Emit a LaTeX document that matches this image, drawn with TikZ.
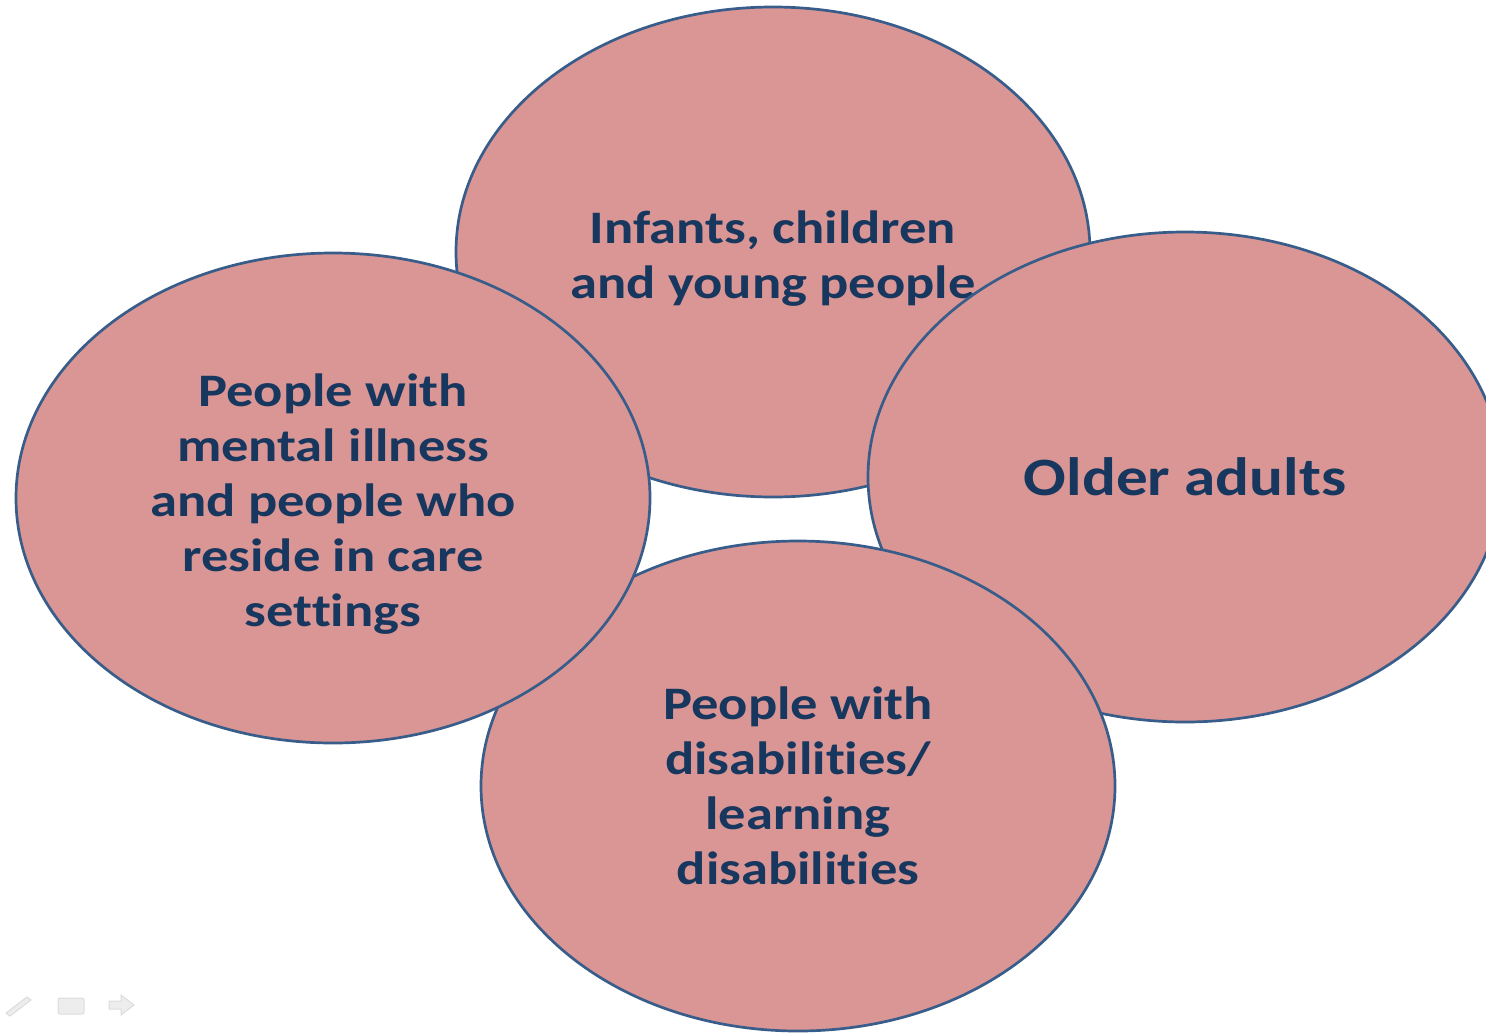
\documentclass[tikz,border=0pt]{standalone}
\usepackage{fontspec}
\setmainfont{Carlito}[FakeStretch=1.17, Ligatures=NoCommon]
\usetikzlibrary{shapes.geometric}
\definecolor{blobfill}{HTML}{D99694}
\definecolor{blobline}{HTML}{385D8A}
\definecolor{blobtext}{HTML}{17375E}
\definecolor{iconfill}{HTML}{EDEDED}
\definecolor{iconline}{HTML}{DCDCDC}
\tikzset{
  blob/.style={ellipse, draw=blobline, fill=blobfill, line width=1.35pt,
    minimum width=317pt, minimum height=245pt, inner sep=0pt,
    text=blobtext, align=center, font=\bfseries\fontsize{23.3}{27.5}\selectfont},
  bigtext/.style={font=\bfseries\fontsize{27}{32}\selectfont},
  icon/.style={fill=iconfill, draw=iconline, line width=0.5pt}
}
\newcommand{\downpad}{\rule{0pt}{22.5pt}}
\begin{document}
\begin{tikzpicture}[x=0.5pt,y=-0.5pt]
\useasboundingbox (0,0) rectangle (1486,1033);
\clip (0,0) rectangle (1486,1033);
\node[blob] (infants) at (773,252) {\downpad Infants, children\\and young people};
\node[blob, bigtext] (older) at (1185,477) {Older adults};
\node[blob] (disab) at (798,786) {People with\\disabilities/\\learning\\disabilities};
\node[blob] (mental) at (333,498) {\downpad People with\\mental illness\\and people who\\reside in care\\settings};
% faint slide-show controls
\path[icon] (6,1013) -- (27,997) -- (31,1000) -- (10,1016) -- cycle;
\path[icon, rounded corners=1pt] (58,998) rectangle (84,1014);
\path[icon] (109,1001) -- (121,1001) -- (121,995) -- (134,1005) -- (121,1015) -- (121,1009) -- (109,1009) -- cycle;
\end{tikzpicture}
\end{document}
